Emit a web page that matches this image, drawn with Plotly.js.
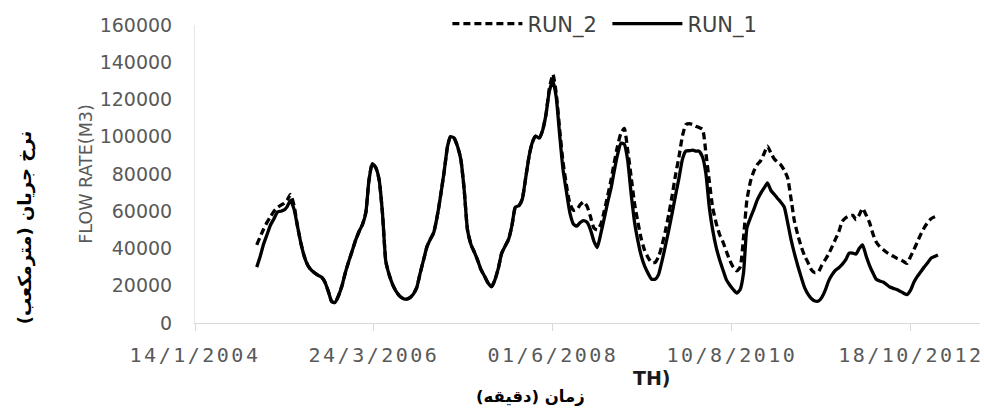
<!DOCTYPE html>
<html>
<head>
<meta charset="utf-8">
<script src="https://cdn.plot.ly/plotly-3.0.1.min.js"></script>
<style>
  html, body { margin: 0; padding: 0; background: #fff; }
  #chart { width: 984px; height: 410px; }
  .xtick text { letter-spacing: 2.5px; }
</style>
</head>
<body>
<div id="chart"></div>
<script>
// Semi-monthly sampling dates
const dates = [
  "2004-10-16","2004-11-01","2004-11-16","2004-12-01","2004-12-16",
  "2005-01-01","2005-01-16","2005-02-01","2005-02-16","2005-03-01","2005-03-16","2005-04-01","2005-04-16","2005-05-01","2005-05-16","2005-06-01","2005-06-16",
  "2005-07-01","2005-07-16","2005-08-01","2005-08-16","2005-09-01","2005-09-16","2005-10-01","2005-10-16","2005-11-01","2005-11-16","2005-12-01","2005-12-16",
  "2006-01-01","2006-01-16","2006-02-01","2006-02-16","2006-03-01","2006-03-16","2006-04-01","2006-04-16","2006-05-01","2006-05-16","2006-06-01","2006-06-16",
  "2006-07-01","2006-07-16","2006-08-01","2006-08-16","2006-09-01","2006-09-16","2006-10-01","2006-10-16","2006-11-01","2006-11-16","2006-12-01","2006-12-16",
  "2007-01-01","2007-01-16","2007-02-01","2007-02-16","2007-03-01","2007-03-16","2007-04-01","2007-04-16","2007-05-01","2007-05-16","2007-06-01","2007-06-16",
  "2007-07-01","2007-07-16","2007-08-01","2007-08-16","2007-09-01","2007-09-16","2007-10-01","2007-10-16","2007-11-01","2007-11-16","2007-12-01","2007-12-16",
  "2008-01-01","2008-01-16","2008-02-01","2008-02-16","2008-03-01","2008-03-16","2008-04-01","2008-04-16","2008-05-01","2008-05-16","2008-06-01","2008-06-16",
  "2008-07-01","2008-07-16","2008-08-01","2008-08-16","2008-09-01","2008-09-16","2008-10-01","2008-10-16","2008-11-01","2008-11-16","2008-12-01","2008-12-16",
  "2009-01-01","2009-01-16","2009-02-01","2009-02-16","2009-03-01","2009-03-16","2009-04-01","2009-04-16","2009-05-01","2009-05-16","2009-06-01","2009-06-16",
  "2009-07-01","2009-07-16","2009-08-01","2009-08-16","2009-09-01","2009-09-16","2009-10-01","2009-10-16","2009-11-01","2009-11-16","2009-12-01","2009-12-16",
  "2010-01-01","2010-01-16","2010-02-01","2010-02-16","2010-03-01","2010-03-16","2010-04-01","2010-04-16","2010-05-01","2010-05-16","2010-06-01","2010-06-16",
  "2010-07-01","2010-07-16","2010-08-01","2010-08-16","2010-09-01","2010-09-16","2010-10-01","2010-10-16","2010-11-01","2010-11-16","2010-12-01","2010-12-16",
  "2011-01-01","2011-01-16","2011-02-01","2011-02-16","2011-03-01","2011-03-16","2011-04-01","2011-04-16","2011-05-01","2011-05-16","2011-06-01","2011-06-16",
  "2011-07-01","2011-07-16","2011-08-01","2011-08-16","2011-09-01","2011-09-16","2011-10-01","2011-10-16","2011-11-01","2011-11-16","2011-12-01","2011-12-16",
  "2012-01-01","2012-01-16","2012-02-01","2012-02-16","2012-03-01","2012-03-16","2012-04-01","2012-04-16","2012-05-01","2012-05-16","2012-06-01","2012-06-16",
  "2012-07-01","2012-07-16","2012-08-01","2012-08-16","2012-09-01","2012-09-16","2012-10-01","2012-10-16","2012-11-01","2012-11-16","2012-12-01","2012-12-16",
  "2013-01-01","2013-01-16","2013-02-01","2013-02-16"
];

// Flow rate (m3), run 1
const run1 = [
  30000,36000,42500,47500,52500,56000,59500,60000,60700,62500,
  65800,61000,52000,43000,36000,31000,28500,27000,25700,24700,
  22200,17000,11500,11000,14500,20000,27000,33000,38500,44500,
  49000,53000,59500,76000,85500,83500,77000,59000,33000,25500,
  20500,17000,14600,13200,12800,13600,15500,19000,26500,34000,
  41000,45000,48500,57500,68500,81500,95000,100000,99500,95000,
  88000,72000,50000,42000,38000,33500,28500,25000,21500,19500,
  23300,29500,37500,41500,45000,52500,62200,63000,66500,78500,
  90000,97000,100300,99300,103500,112000,124500,130000,121000,101000,
  82500,70000,59000,53000,52000,54000,55000,54000,50000,44000,
  40500,48000,56000,65000,72500,81000,90000,96500,96000,87500,
  70000,54000,44000,36000,30500,26500,23500,23500,26000,33000,
  41000,50000,59000,68500,77500,88000,92300,92500,92800,92300,
  92300,89000,80000,62000,50000,40500,34000,28500,23300,20300,
  18000,16100,18000,27000,51000,56500,61000,66000,69500,72500,
  75200,71000,69000,67000,65000,62300,54000,45000,37500,30500,
  24500,19000,15500,13000,11800,11800,13800,17500,22500,26000,
  28300,29700,31500,34000,37500,37500,37000,40000,42000,36000,
  31000,27000,23500,22500,22000,20700,19300,18600,18000,17000,
  16000,15200,17500,22000,25000,27500,30000,32300,34800,35700,
  36500
];

// Flow rate (m3), run 2
const run2 = [
  42000,46500,50500,54000,57000,60000,62000,63300,64300,66000,
  69000,63000,52000,43000,36000,31000,28500,27000,25700,24700,
  22200,17000,11500,11000,14500,20000,27000,33000,38500,44500,
  49000,53000,59500,76000,85500,83500,77000,59000,33000,25500,
  20500,17000,14600,13200,12800,13600,15500,19000,26500,34000,
  41000,45000,48500,57500,68500,81500,95000,100000,99500,95000,
  88000,72000,50000,42000,38000,33500,28500,25000,21500,19500,
  23300,29500,37500,41500,45000,52500,62200,63000,66500,78500,
  90000,97000,100300,99300,103500,112000,126000,133500,123000,104000,
  86500,73500,64000,60500,61000,63500,65000,62500,57000,51000,
  50000,53000,60000,68500,77000,85500,94500,102000,104500,93000,
  79000,64000,54000,45000,39000,35000,32500,32500,35500,41500,
  49000,58500,68500,79500,89000,100500,106500,107000,106500,105700,
  105000,104000,91000,76000,62000,53500,47500,43500,38500,33500,
  30000,28000,30000,46000,66000,76000,81500,85000,87000,91000,
  95000,91000,88000,86500,85000,82000,78000,67000,55000,47000,
  41000,36000,32500,28500,27000,27500,31000,34000,37000,41000,
  45000,49000,54500,56500,57500,57800,55500,58000,61500,58000,
  54000,48000,43500,41000,39500,38000,36800,35800,34800,34000,
  33000,32000,35500,39500,43500,47500,51000,54000,56000,57000,
  57800
];

// Axis ticks
const xTickDates = ["2004-01-14", "2006-03-24", "2008-06-01", "2010-08-10", "2012-10-18"];
const xTickLabels = ["14/1/2004", "24/3/2006", "01/6/2008", "10/8/2010", "18/10/2012"];
const yTickValues = [0, 20000, 40000, 60000, 80000, 100000, 120000, 140000, 160000];
const yTickLabels = ["0", "20000", "40000", "60000", "80000", "100000", "120000", "140000", "160000"];

const grey = "#595959";

const traces = [
  {
    x: dates, y: run1, name: "RUN_1", type: "scatter", mode: "lines",
    line: { color: "#000000", width: 3.3, shape: "spline", smoothing: 0.5 }, legendrank: 2
  },
  {
    x: dates, y: run2, name: "RUN_2", type: "scatter", mode: "lines",
    line: { color: "#000000", width: 3.3, dash: "7px,4px", shape: "spline", smoothing: 0.5 }, legendrank: 1
  }
];

const layout = {
  width: 984, height: 410,
  margin: { l: 195, r: 4, t: 24, b: 87 },
  paper_bgcolor: "#ffffff", plot_bgcolor: "#ffffff",
  showlegend: true,
  legend: {
    orientation: "h", x: 0.3215, xanchor: "left", y: 1.0, yanchor: "middle",
    font: { family: "DejaVu Sans", size: 21, color: "#404040" },
    itemwidth: 70, entrywidth: 75, entrywidthmode: "pixels",
    bgcolor: "rgba(0,0,0,0)"
  },
  xaxis: {
    type: "date",
    range: ["2004-01-14", "2013-08-23"],
    tickmode: "array", tickvals: xTickDates, ticktext: xTickLabels,
    ticks: "outside", ticklen: 7, tickcolor: "#d9d9d9",
    showline: true, linecolor: "#d9d9d9", linewidth: 1,
    showgrid: false, zeroline: false,
    tickfont: { family: "DejaVu Sans Mono", size: 20, color: grey },
    ticklabelstandoff: 7
  },
  yaxis: {
    range: [0, 160000],
    tickmode: "array", tickvals: yTickValues, ticktext: yTickLabels,
    ticks: "", showline: true, linecolor: "#e6e6e6", linewidth: 1,
    showgrid: false, zeroline: false,
    tickfont: { family: "DejaVu Sans", size: 19, color: grey },
    ticklabelstandoff: 18,
    title: { text: "FLOW RATE(M3)", standoff: 2, font: { family: "DejaVu Sans", size: 17.5, color: grey } }
  },
  annotations: [
    {
      text: "نرخ جریان (مترمکعب)", xref: "paper", yref: "paper",
      x: -0.2166, y: 0.321, xanchor: "center", yanchor: "middle", textangle: -90,
      showarrow: false, font: { family: "DejaVu Sans", size: 18, color: "#000000", weight: "bold" }
    },
    {
      text: "زمان (دقیقه)", xref: "paper", yref: "paper",
      x: 0.428, y: -0.2475, xanchor: "center", yanchor: "middle",
      showarrow: false, font: { family: "DejaVu Sans", size: 16.5, color: "#000000", weight: "bold" }
    },
    {
      text: "TH)", xref: "paper", yref: "paper",
      x: 0.582, y: -0.184, xanchor: "center", yanchor: "middle",
      showarrow: false, font: { family: "DejaVu Sans", size: 19, color: "#1a1a1a", weight: "bold" }
    }
  ]
};

Plotly.newPlot("chart", traces, layout, { displayModeBar: false, staticPlot: true });
</script>
</body>
</html>
